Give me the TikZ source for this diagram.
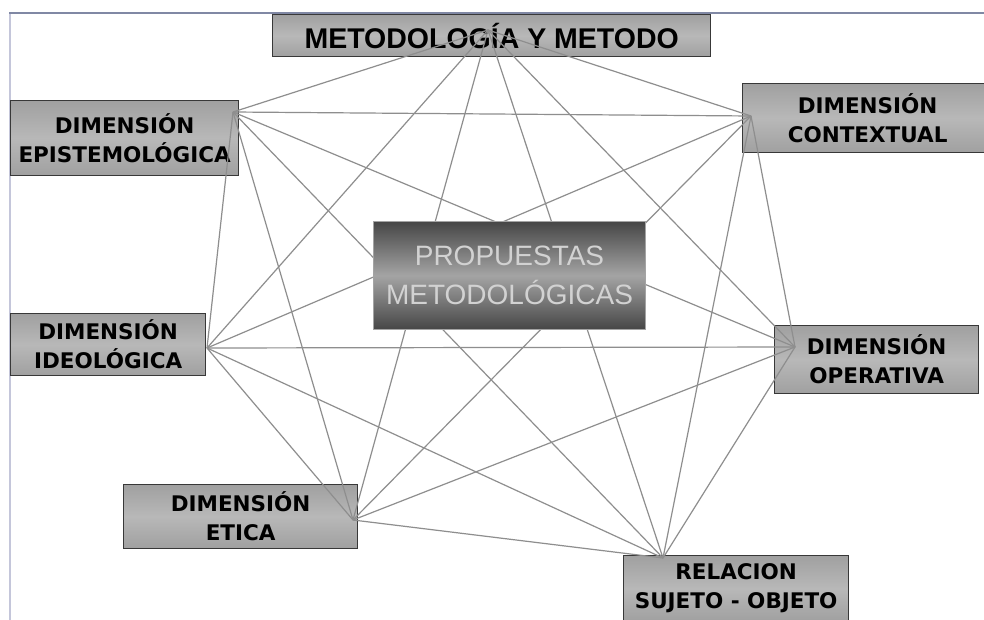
\documentclass[tikz,border=0pt]{standalone}
\usepackage{fontspec}
\setmainfont{Liberation Sans}
\newfontfamily\boxfont{DejaVu Sans}
\definecolor{boxmid}{HTML}{B8B8B8}
\definecolor{boxedge}{HTML}{A0A0A0}
\definecolor{bordc}{HTML}{383838}
\definecolor{linec}{HTML}{8E8E8E}
\definecolor{cdark}{HTML}{464646}
\definecolor{cmid}{HTML}{A4A4A4}
\definecolor{ctext}{HTML}{D2D2D2}
\definecolor{frametop}{HTML}{8088A4}
\definecolor{frameleft}{HTML}{C4C6DA}
\begin{document}
\begin{tikzpicture}[x=1pt,y=-1pt,
  outerbox/.style={draw=bordc, line width=1.3pt, top color=boxedge, bottom color=boxedge, middle color=boxmid,
    inner sep=0pt, align=center, anchor=north west,
    font=\boxfont\bfseries\fontsize{21.5}{29}\selectfont},
  titlebox/.style={outerbox, font=\bfseries\fontsize{28.5}{34}\selectfont},
  centerbox/.style={draw=cmid, line width=1pt, top color=cdark, bottom color=cdark, middle color=cmid,
    inner sep=0pt, align=center, anchor=north west, text=ctext,
    font=\fontsize{28}{39}\selectfont},
  link/.style={draw=linec, line width=1.2pt},
  frame/.style={line width=2pt}]
\useasboundingbox (0,0) rectangle (984,620);
\fill[white] (0,0) rectangle (984,620);
% frame
\coordinate (f0) at (9,13);
\coordinate (f1) at (984,13);
\coordinate (f2) at (10,620);
\draw[frame, frameleft] (10,13) -- (f2);
\draw[frame, frametop] (f0) -- (f1);
% outer boxes
\node[titlebox, minimum width=438pt, minimum height=42pt] (meto) at (272,14) {METODOLOGÍA Y METODO};
\node[outerbox, minimum width=228pt, minimum height=75pt] (epi) at (10,100) {DIMENSIÓN\\EPISTEMOLÓGICA};
\node[outerbox, minimum width=250pt, minimum height=69pt, text width=242pt] (con) at (742,83) {DIMENSIÓN\\CONTEXTUAL};
\node[outerbox, minimum width=195pt, minimum height=62pt] (ide) at (10,313) {DIMENSIÓN\\IDEOLÓGICA};
\node[outerbox, minimum width=204pt, minimum height=68pt] (ope) at (774,325) {DIMENSIÓN\\OPERATIVA};
\node[outerbox, minimum width=234pt, minimum height=64pt] (eti) at (123,484) {DIMENSIÓN\\ETICA};
\node[outerbox, minimum width=225pt, minimum height=66pt] (rel) at (623,555) {RELACION\\SUJETO - OBJETO};
% hubs
\coordinate (hm) at (488,30);
\coordinate (he) at (233,112);
\coordinate (hc) at (751,116);
\coordinate (hi) at (207,348);
\coordinate (ho) at (795,347);
\coordinate (ht) at (353,520);
\coordinate (hr) at (663,558);
% links (complete graph)
\foreach \a/\b in {hm/he,hm/hc,hm/hi,hm/ho,hm/ht,hm/hr,
                   he/hc,he/hi,he/ho,he/ht,he/hr,
                   hc/hi,hc/ho,hc/ht,hc/hr,
                   hi/ho,hi/ht,hi/hr,
                   ho/ht,ho/hr,
                   ht/hr}
  \draw[link] (\a) -- (\b);
% center box
\node[centerbox, minimum width=272pt, minimum height=108pt] (cen) at (373,221) {PROPUESTAS\\METODOLÓGICAS};
\end{tikzpicture}
\end{document}
